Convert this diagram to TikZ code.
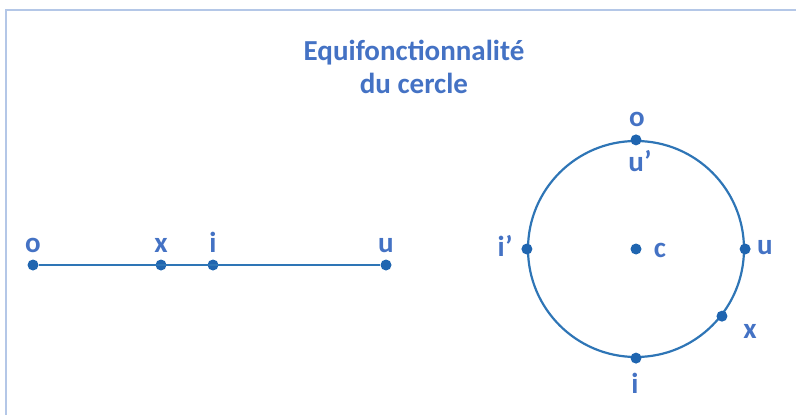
\documentclass[tikz,border=0pt]{standalone}
\usepackage{fontspec}
\setmainfont{Carlito}
\definecolor{txtblue}{HTML}{4472C4}
\definecolor{lineblue}{HTML}{2E75B6}
\definecolor{dotblue}{HTML}{1F65B0}
\definecolor{frame}{HTML}{B4C7E7}
\begin{document}
\begin{tikzpicture}[x=1pt,y=-1pt,
  pt/.style={circle,fill=dotblue,inner sep=0pt,minimum size=11pt},
  lbl/.style={anchor=base,text=txtblue,font=\fontsize{29}{32}\selectfont\bfseries,inner sep=0pt},
  ttl/.style={anchor=base,text=txtblue,font=\fontsize{29}{32}\selectfont\bfseries,inner sep=0pt},
  conn/.style={draw=lineblue,line width=2.2pt}]
\useasboundingbox (0,0) rectangle (796,415);
\draw[frame,line width=2.5pt] (6,415) -- (6,10) -- (796,10);
% title
\node[ttl] (t1) at (414,60) {Equifonctionnalité};
\node[ttl] (t2) at (414,93) {du cercle};
% line
\node[pt] (lo) at (33,265) {};
\node[pt] (lx) at (161,265) {};
\node[pt] (li) at (213,265) {};
\node[pt] (lu) at (386,265) {};
\draw[conn] (lo) -- (lu);
\node[lbl] (llo) at (33,252) {o};
\node[lbl] (llx) at (161,252) {x};
\node[lbl] (lli) at (213,252) {i};
\node[lbl] (llu) at (386,252) {u};
% circle
\node[conn,circle,minimum size=216pt,inner sep=0pt] (circ) at (636,249) {};
\node[pt] (cc) at (636,249) {};
\node[pt] (co) at (circ.north) {};
\node[pt] (ci) at (circ.south) {};
\node[pt] (cip) at (circ.west) {};
\node[pt] (cu) at (circ.east) {};
\node[pt] (cx) at (circ.-38.5) {};
\node[lbl] (lco) at (637,126) {o};
\node[lbl] (lcup) at (640,171) {u’};
\node[lbl] (lcip) at (505,256) {i’};
\node[lbl] (lcc) at (660,257) {c};
\node[lbl] (lcu) at (765,254) {u};
\node[lbl] (lcx) at (750,338) {x};
\node[lbl] (lci) at (635,393) {i};
\end{tikzpicture}
\end{document}
